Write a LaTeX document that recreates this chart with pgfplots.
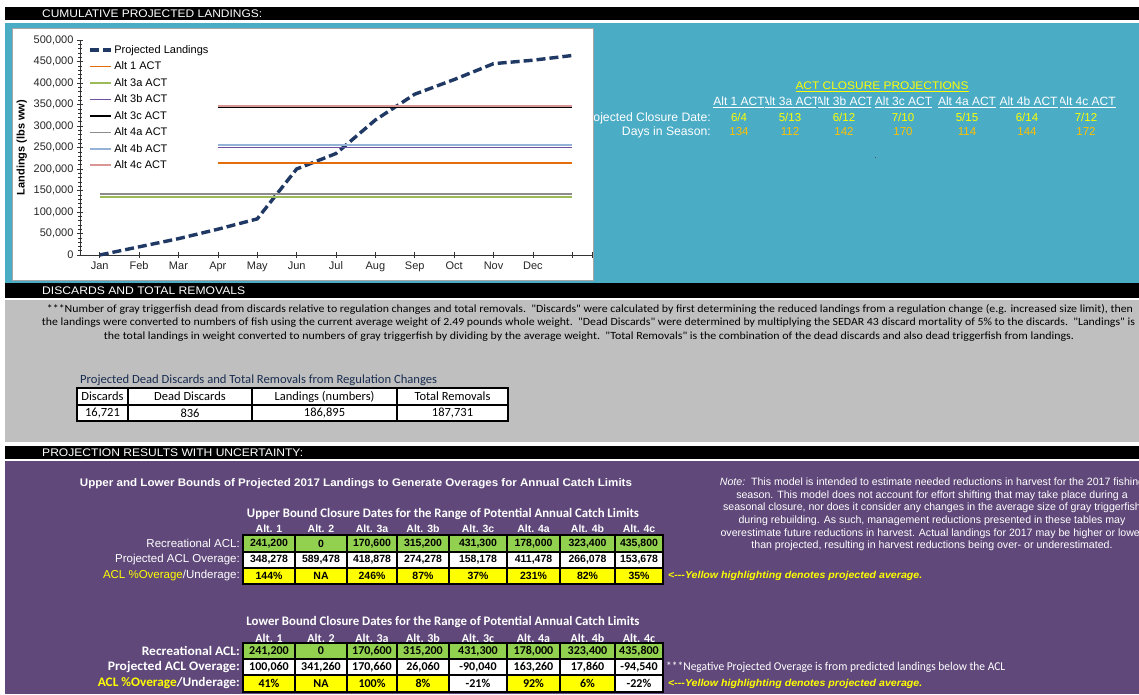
\documentclass[border=0pt]{standalone}
\usepackage{pgfplots}
\pgfplotsset{compat=1.18}
\usepackage{fontspec}
\setmainfont{Liberation Sans}
\newfontfamily\carlito{Carlito}
\usepackage{graphicx}
\definecolor{tealp}{RGB}{75,172,198}
\definecolor{grayp}{RGB}{191,191,191}
\definecolor{purp}{RGB}{96,73,122}
\definecolor{cgreen}{RGB}{146,208,80}
\definecolor{cyel}{RGB}{255,255,0}
\definecolor{dayor}{RGB}{255,192,0}
\definecolor{navy}{RGB}{31,56,100}
\definecolor{c1}{RGB}{228,108,10}
\definecolor{c3a}{RGB}{155,187,89}
\definecolor{c3b}{RGB}{112,80,160}
\definecolor{c4a}{RGB}{140,140,140}
\definecolor{c4b}{RGB}{149,179,215}
\definecolor{c4c}{RGB}{217,150,148}
\newcommand{\fw}[2]{\resizebox{#1}{\height}{#2}}
\newcommand{\fs}[1]{\fontsize{#1}{#1}\selectfont}
% one table row: top, bottom, font, items xa/xb/fill/text
\newcommand{\trow}[4]{\foreach \xa/\xb/\fc/\tx in {#4}{%
  \filldraw[fill=\fc, draw=black, line width=1.4pt] (\xa,-#1) rectangle (\xb,-#2);
  \node[font=#3, inner sep=0] at ({(\xa+\xb)/2},{-(#1+#2)/2}) {\tx};}}

\begin{document}
\begin{tikzpicture}[x=1pt,y=1pt]
\path[use as bounding box] (0,0) rectangle (1139,-694);
\fill[white] (0,0) rectangle (1139,-694);

% panels and banners
\fill[black] (5,-7) rectangle (1139,-20);
\fill[tealp] (5,-23) rectangle (1139,-283);
\fill[black] (5,-283) rectangle (1139,-298);
\fill[grayp] (5,-300) rectangle (1139,-442);
\fill[black] (5,-446) rectangle (1139,-459);
\fill[purp] (5,-461) rectangle (1139,-694);

\node[anchor=west, text=white, inner sep=0] at (42,-13.5) {\fw{220pt}{\fs{11}CUMULATIVE PROJECTED LANDINGS:}};
\node[anchor=west, text=white, inner sep=0] at (42,-291) {\fw{203pt}{\fs{11}DISCARDS AND TOTAL REMOVALS}};
\node[anchor=west, text=white, inner sep=0] at (42,-453) {\fw{261pt}{\fs{11}PROJECTION RESULTS WITH UNCERTAINTY:}};

% ACT closure projections (teal panel)
\node[text=cyel, inner sep=0] at (882,-87) {\fw{173pt}{\fs{11}\underline{ACT CLOSURE PROJECTIONS}}};
\foreach \xc/\xa/\xb/\tx in {739/700/764/Alt 1 ACT, 790.5/765/816/Alt 3a ACT, 844.5/818/871/Alt 3b ACT,
    903.5/872/936/Alt 3c ACT, 967/937/998/Alt 4a ACT, 1028.5/999/1058/Alt 4b ACT, 1087/1060/1130/Alt 4c ACT}{%
  \begin{scope}
    \clip (\xa,-94) rectangle (\xb,-110);
    \node[text=white, inner sep=0] at (\xc,-102) {\fs{12}\underline{\tx}};
  \end{scope}
}
\foreach \xc/\dt/\dd in {739/6\slash 4/134, 790/5\slash 13/112, 844/6\slash 12/142, 903/7\slash 10/170,
    967/5\slash 15/114, 1027/6\slash 14/144, 1086/7\slash 12/172}{%
  \node[text=cyel, inner sep=0, anchor=base] at (\xc,-121) {\fs{11.5}\dt};
  \node[text=dayor, inner sep=0, anchor=base] at (\xc,-135) {\fs{11.5}\dd};
}
\node[anchor=base east, text=white, inner sep=0] at (711,-121) {\fs{12.2}Projected Closure Date:};
\node[anchor=base east, text=white, inner sep=0] at (711,-135) {\fs{12.2}Days in Season:};
\fill[black!70] (874.5,-156.5) rectangle (875.8,-157.8);

% chart box
\filldraw[fill=white, draw=black!35, line width=0.8pt] (12,-28) rectangle (593,-280);

\begin{axis}[
  at={(80pt,-255pt)}, anchor=south west,
  scale only axis, width=512pt, height=215pt,
  xmin=-0.5, xmax=12.5, ymin=0, ymax=500000,
  axis x line*=bottom, axis y line*=left,
  axis line style={-, black!80, line width=0.8pt},
  xtick={0,1,2,3,4,5,6,7,8,9,10,11,12},
  xticklabels={Jan,Feb,Mar,Apr,May,Jun,Jul,Aug,Sep,Oct,Nov,Dec,{}},
  extra x ticks={12.5}, extra x tick labels={},
  ytick={0,50000,100000,150000,200000,250000,300000,350000,400000,450000,500000},
  minor y tick num=4,
  scaled y ticks=false,
  yticklabel style={/pgf/number format/.cd, fixed, 1000 sep={,}, assume math mode=true},
  tick label style={font=\fs{11}, text=black!85},
  tick style={black!80, line width=0.6pt},
  tick align=center,
  major tick length=6pt, minor tick length=3pt,
  ylabel={Landings (lbs ww)},
  ylabel style={font=\bfseries\fs{11}},
  clip=false,
  legend style={at={(0.013,0.99)}, anchor=north west, draw=none, fill=none,
    font=\fs{11}, row sep=3pt, inner sep=1pt},
  legend cell align=left,
  legend image code/.code={\draw[#1] (0pt,0pt) -- (21pt,0pt);},
]
\addplot[navy, line width=3.4pt, dash pattern=on 9pt off 4pt] coordinates {
  (0,0)(1,19000)(2,38000)(3,60000)(4,84000)(5,200000)(6,236000)
  (7,314000)(8,374000)(9,408000)(10,445000)(11,453000)(12,464000)
};
\addlegendentry{Projected Landings}
\addplot[c1, line width=1.8pt] coordinates {(3,214000)(12,214000)};
\addlegendentry{Alt 1 ACT}
\addplot[c3a, line width=1.8pt] coordinates {(0,135000)(12,135000)};
\addlegendentry{Alt 3a ACT}
\addplot[c3b, line width=1.8pt] coordinates {(3,250000)(12,250000)};
\addlegendentry{Alt 3b ACT}
\addplot[black, line width=1.8pt] coordinates {(3,343000)(12,343000)};
\addlegendentry{Alt 3c ACT}
\addplot[c4a, line width=1.8pt] coordinates {(0,141000)(12,141000)};
\addlegendentry{Alt 4a ACT}
\addplot[c4b, line width=1.8pt] coordinates {(3,256000)(12,256000)};
\addlegendentry{Alt 4b ACT}
\addplot[c4c, line width=1.8pt] coordinates {(3,347000)(12,347000)};
\addlegendentry{Alt 4c ACT}
\end{axis}

% discards panel
\node[inner sep=0] at (590,-309) {\fw{1086pt}{\carlito\fs{11}***Number of gray triggerfish dead from discards relative to regulation changes and total removals.\ \ "Discards" were calculated by first determining the reduced landings from a regulation change (e.g. increased size limit), then}};
\node[inner sep=0] at (588.5,-323) {\fw{1093pt}{\carlito\fs{11}the landings were converted to numbers of fish using the current average weight of 2.49 pounds whole weight.\ \ "Dead Discards" were determined by multiplying the SEDAR 43 discard mortality of 5\% to the discards.\ \ "Landings" is}};
\node[inner sep=0] at (589,-337) {\fw{970pt}{\carlito\fs{11}the total landings in weight converted to numbers of gray triggerfish by dividing by the average weight.\ \ "Total Removals" is the combination of the dead discards and also dead triggerfish from landings.}};
\node[anchor=west, inner sep=0, text=navy!80!black] at (80,-380) {\fw{357pt}{\carlito\fs{12.5}Projected Dead Discards and Total Removals from Regulation Changes}};
\begin{scope}
\def\tf{\carlito\fs{12.5}}
\trow{388}{405}{\tf}{77/128/white/Discards, 128/252/white/Dead Discards, 252/397/white/Landings (numbers), 397/508/white/Total Removals}
\trow{405}{421}{\tf}{77/128/white/{16,721}, 128/252/white/836, 252/397/white/{186,895}, 397/508/white/{187,731}}
\end{scope}

% purple panel
\node[text=white, inner sep=0] at (356,-484) {\fw{552pt}{\bfseries\fs{11}Upper and Lower Bounds of Projected 2017 Landings to Generate Overages for Annual Catch Limits}};
\foreach \yy/\tx in {483/{\textit{Note:}\ \ This model is intended to estimate needed reductions in harvest for the 2017 fishing},
  495.5/{season. This model does not account for effort shifting that may take place during a},
  508/{seasonal closure, nor does it consider any changes in the average size of gray triggerfish},
  521/{during rebuilding. As such, management reductions presented in these tables may},
  533.5/{overestimate future reductions in harvest. Actual landings for 2017 may be higher or lower},
  546/{than projected, resulting in harvest reductions being over- or underestimated.}}{%
  \node[text=white, inner sep=0] at (932,-\yy) {\fs{10.6}\tx};
}

% upper table
\node[text=white, inner sep=0] at (443,-514) {\fw{392pt}{\carlito\bfseries\fs{13}Upper Bound Closure Dates for the Range of Potential Annual Catch Limits}};
\foreach \xc/\tx in {269/Alt. 1, 321/Alt. 2, 372/Alt. 3a, 423/Alt. 3b, 478/Alt. 3c, 533.5/Alt. 4a, 587.5/Alt. 4b, 639/Alt. 4c}{%
  \node[text=white, inner sep=0, font=\bfseries\fs{10.5}] at (\xc,-529) {\tx};}
\node[anchor=east, text=white, inner sep=0] at (240,-543.5) {\fs{11.5}Recreational ACL:};
\node[anchor=east, text=white, inner sep=0] at (240,-560) {\fs{11.5}Projected ACL Overage:};
\node[anchor=east, inner sep=0] at (240,-576) {\fs{11.5}\textcolor{cyel}{ACL \%Overage}\textcolor{white}{/Underage:}};
\def\uf{\bfseries\fs{10.5}}
\trow{535}{552}{\uf}{243/295/cgreen/{241,200}, 295/347/cgreen/0, 347/397/cgreen/{170,600}, 397/449/cgreen/{315,200}, 449/507/cgreen/{431,300}, 507/560/cgreen/{178,000}, 560/615/cgreen/{323,400}, 615/663/cgreen/{435,800}}
\trow{552}{568}{\uf}{243/295/white/{348,278}, 295/347/white/{589,478}, 347/397/white/{418,878}, 397/449/white/{274,278}, 449/507/white/{158,178}, 507/560/white/{411,478}, 560/615/white/{266,078}, 615/663/white/{153,678}}
\trow{568}{584}{\uf}{243/295/cyel/144\%, 295/347/cyel/NA, 347/397/cyel/246\%, 397/449/cyel/87\%, 449/507/cyel/37\%, 507/560/cyel/231\%, 560/615/cyel/82\%, 615/663/cyel/35\%}
\node[anchor=west, text=cyel, inner sep=0] at (668,-576) {\fw{254pt}{\bfseries\itshape\fs{10}<-{}-{}-Yellow highlighting denotes projected average.}};

% lower table
\node[text=white, inner sep=0] at (443,-622) {\fw{393pt}{\carlito\bfseries\fs{13}Lower Bound Closure Dates for the Range of Potential Annual Catch Limits}};
\foreach \xc/\tx in {269/Alt. 1, 321/Alt. 2, 372/Alt. 3a, 423/Alt. 3b, 478/Alt. 3c, 533.5/Alt. 4a, 587.5/Alt. 4b, 639/Alt. 4c}{%
  \node[text=white, inner sep=0, font=\carlito\bfseries\fs{12}] at (\xc,-638) {\tx};}
\node[anchor=east, text=white, inner sep=0] at (240,-651) {\fw{98pt}{\carlito\bfseries\fs{13}Recreational ACL:}};
\node[anchor=east, text=white, inner sep=0] at (240,-667) {\fw{132pt}{\carlito\bfseries\fs{13}Projected ACL Overage:}};
\node[anchor=east, inner sep=0] at (240,-683) {\fw{142pt}{\carlito\bfseries\fs{13}\textcolor{cyel}{ACL \%Overage}\textcolor{white}{/Underage:}}};
\def\lf{\carlito\bfseries\fs{12}}
\trow{643}{659}{\lf}{243/295/cgreen/{241,200}, 295/347/cgreen/0, 347/397/cgreen/{170,600}, 397/449/cgreen/{315,200}, 449/507/cgreen/{431,300}, 507/560/cgreen/{178,000}, 560/615/cgreen/{323,400}, 615/663/cgreen/{435,800}}
\trow{659}{675}{\lf}{243/295/white/{100,060}, 295/347/white/{341,260}, 347/397/white/{170,660}, 397/449/white/{26,060}, 449/507/white/{-90,040}, 507/560/white/{163,260}, 560/615/white/{17,860}, 615/663/white/{-94,540}}
\trow{675}{692}{\lf}{243/295/cyel/41\%, 295/347/cyel/NA, 347/397/cyel/100\%, 397/449/cyel/8\%, 449/507/white/-21\%, 507/560/cyel/92\%, 560/615/cyel/6\%, 615/663/white/-22\%}
\node[anchor=west, text=white, inner sep=0] at (666,-667) {\fw{339pt}{\carlito\fs{12}***Negative Projected Overage is from predicted landings below the ACL}};
\node[anchor=west, text=cyel, inner sep=0] at (668,-683.5) {\fw{254pt}{\bfseries\itshape\fs{10}<-{}-{}-Yellow highlighting denotes projected average.}};
\end{tikzpicture}
\end{document}
